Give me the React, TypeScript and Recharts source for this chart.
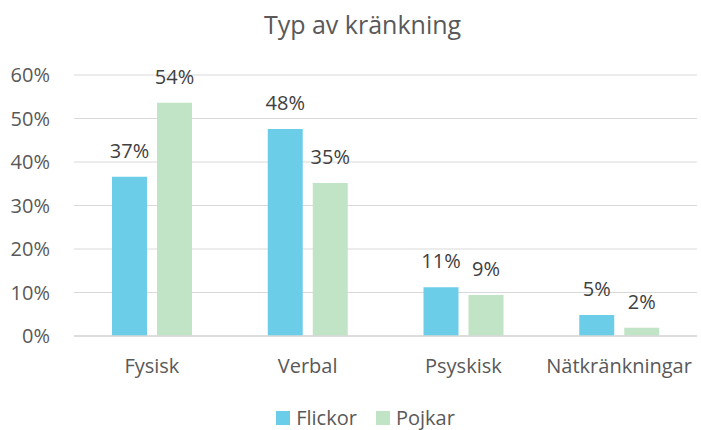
import { BarChart, Bar, XAxis, YAxis, CartesianGrid, LabelList, Legend } from 'recharts';

const categories = ['Fysisk', 'Verbal', 'Psyskisk', 'Nätkränkningar'];
const flickor = [36.6, 47.6, 11.2, 4.8];
const pojkar = [53.6, 35.2, 9.4, 1.9];
const yTicks = [0, 10, 20, 30, 40, 50, 60];

const data = categories.map((name, i) => ({ name, flickor: flickor[i], pojkar: pojkar[i] }));

const FONT = '"Open Sans", sans-serif';
const BLUE = '#6CCDE8';
const GREEN = '#C1E4C6';

const pct = (v: any) => `${Math.round(Number(v))}%`;

function LegendBox() {
  const items = [
    { label: 'Flickor', color: BLUE },
    { label: 'Pojkar', color: GREEN },
  ];
  return (
    <div
      style={{
        display: 'flex',
        justifyContent: 'center',
        gap: 19,
        paddingLeft: 34,
        fontFamily: FONT,
        fontSize: 20,
        lineHeight: '22px',
        color: '#595959',
      }}
    >
      {items.map((it) => (
        <div key={it.label} style={{ display: 'flex', alignItems: 'center', gap: 6 }}>
          <span style={{ width: 14, height: 14, background: it.color, display: 'inline-block' }} />
          <span>{it.label}</span>
        </div>
      ))}
    </div>
  );
}

export default function App() {
  return (
    <div style={{ position: 'absolute', left: 0, top: 0, width: 701, height: 430, background: '#fff' }}>
      <div
        style={{
          position: 'absolute',
          left: 0,
          top: 7,
          width: 725,
          textAlign: 'center',
          fontFamily: FONT,
          fontSize: 25,
          color: '#595959',
        }}
      >
        Typ av kränkning
      </div>
      <BarChart
        width={701}
        height={430}
        data={data}
        margin={{ top: 75, right: 4, bottom: 0, left: 0 }}
        barSize={35}
        barGap={10}
      >
        <CartesianGrid vertical={false} stroke="#d9d9d9" />
        <XAxis
          dataKey="name"
          tickLine={false}
          axisLine={{ stroke: '#d9d9d9', strokeWidth: 1.5 }}
          tick={{ fill: '#595959', fontSize: 20, fontFamily: FONT }}
          tickMargin={17}
          height={72}
        />
        <YAxis
          width={74}
          domain={[0, 60]}
          ticks={yTicks}
          tickFormatter={(v) => `${v}%`}
          tickLine={false}
          axisLine={false}
          tickSize={0}
          tickMargin={24}
          tick={{ fill: '#595959', fontSize: 20, fontFamily: FONT }}
        />
        <Legend verticalAlign="bottom" content={() => <LegendBox />} wrapperStyle={{ bottom: 1 }} />
        <Bar dataKey="flickor" fill={BLUE} isAnimationActive={false}>
          <LabelList dataKey="flickor" position="top" offset={19} formatter={pct} style={{ fill: '#404040', fontSize: 20, fontFamily: FONT }} />
        </Bar>
        <Bar dataKey="pojkar" fill={GREEN} isAnimationActive={false}>
          <LabelList dataKey="pojkar" position="top" offset={19} formatter={pct} style={{ fill: '#404040', fontSize: 20, fontFamily: FONT }} />
        </Bar>
      </BarChart>
    </div>
  );
}
